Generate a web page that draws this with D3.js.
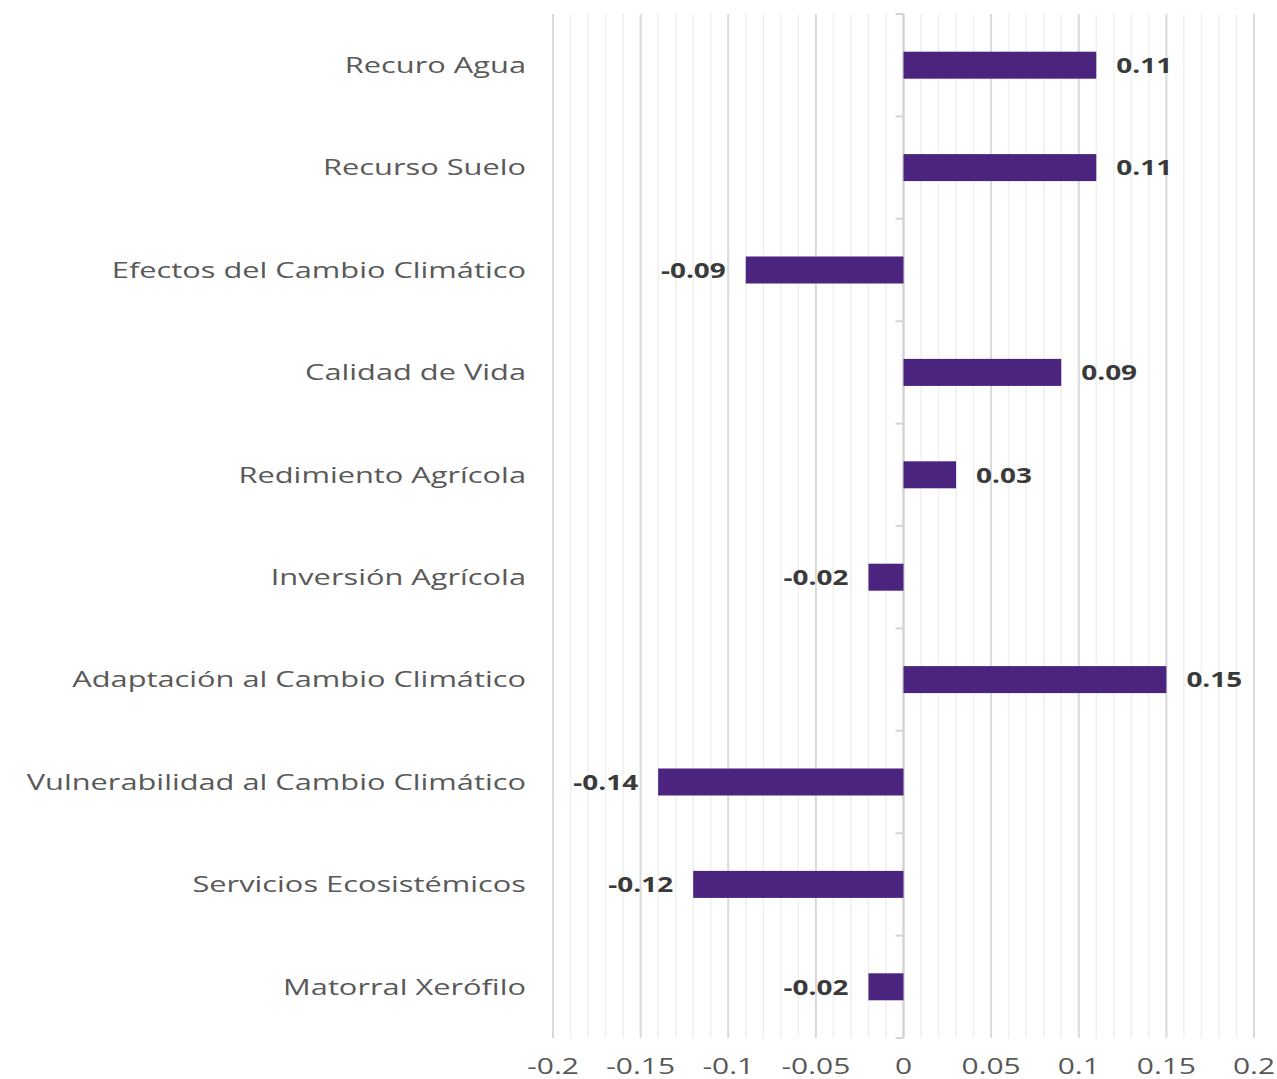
<!DOCTYPE html>
<html>
<head>
<meta charset="utf-8">
<script src="https://cdn.jsdelivr.net/npm/d3@7"></script>
<style>
  body { margin: 0; background: #fff; }
  text { font-family: "Open Sans", sans-serif; }
</style>
</head>
<body>
<div id="chart"></div>
<script>
const categories = [
    "Recuro Agua",
    "Recurso Suelo",
    "Efectos del Cambio Climático",
    "Calidad de Vida",
    "Redimiento Agrícola",
    "Inversión Agrícola",
    "Adaptación al Cambio Climático",
    "Vulnerabilidad al Cambio Climático",
    "Servicios Ecosistémicos",
    "Matorral Xerófilo"
];
const values = [0.11, 0.11, -0.09, 0.09, 0.03, -0.02, 0.15, -0.14, -0.12, -0.02];
const xTicks = [-0.2, -0.15, -0.1, -0.05, 0, 0.05, 0.1, 0.15, 0.2];

const width = 1277;
const height = 1079;
const margin = { top: 14, right: 23, bottom: 41, left: 553 };
const innerWidth = width - margin.left - margin.right;
const innerHeight = height - margin.top - margin.bottom;

const barColor = "#4b2480";
// the original font is much wider than Open Sans, stretch it horizontally
const catStretch = 1.40;
const tickStretch = 1.36;
const valStretch = 1.27;

const svg = d3.select("#chart")
    .append("svg")
    .attr("width", width)
    .attr("height", height);

const inner = svg.append("g")
    .attr("transform", `translate(${margin.left}, ${margin.top})`);

const xScale = d3.scaleLinear()
    .domain([-0.2, 0.2])
    .range([0, innerWidth]);

const yScale = d3.scaleBand()
    .domain(categories)
    .range([0, innerHeight]);

// minor gridlines every 0.01
const minor = d3.range(-20, 21).map(d => d / 100);
inner.selectAll(".minor")
    .data(minor)
    .join("line")
    .attr("class", "minor")
    .attr("x1", d => xScale(d))
    .attr("x2", d => xScale(d))
    .attr("y1", 0)
    .attr("y2", innerHeight)
    .attr("stroke", "#efefef")
    .attr("stroke-width", 1.5);

// major gridlines
inner.selectAll(".major")
    .data(xTicks)
    .join("line")
    .attr("class", "major")
    .attr("x1", d => xScale(d))
    .attr("x2", d => xScale(d))
    .attr("y1", 0)
    .attr("y2", innerHeight)
    .attr("stroke", "#dadada")
    .attr("stroke-width", 2);

// zero axis with category ticks
const zero = xScale(0);
inner.append("line")
    .attr("x1", zero).attr("x2", zero)
    .attr("y1", 0).attr("y2", innerHeight)
    .attr("stroke", "#d4d4d4")
    .attr("stroke-width", 2);

const bounds = categories.map(c => yScale(c)).concat([innerHeight]);
inner.selectAll(".cat-tick")
    .data(bounds)
    .join("line")
    .attr("class", "cat-tick")
    .attr("x1", zero - 8).attr("x2", zero)
    .attr("y1", d => d).attr("y2", d => d)
    .attr("stroke", "#d4d4d4")
    .attr("stroke-width", 2);

// bars
const barH = 27;
inner.selectAll(".bar")
    .data(values)
    .join("rect")
    .attr("class", "bar")
    .attr("x", d => xScale(Math.min(0, d)))
    .attr("y", (d, i) => yScale(categories[i]) + yScale.bandwidth() / 2 - barH / 2)
    .attr("width", d => Math.abs(xScale(d) - zero))
    .attr("height", barH)
    .attr("fill", barColor);

// value labels
inner.selectAll(".val")
    .data(values)
    .join("text")
    .attr("class", "val")
    .attr("transform", (d, i) => {
        const x = d >= 0 ? xScale(d) + 20 : xScale(d) - 20;
        const y = yScale(categories[i]) + yScale.bandwidth() / 2;
        return `translate(${x}, ${y}) scale(${valStretch}, 1)`;
    })
    .attr("dy", "0.35em")
    .attr("text-anchor", d => d >= 0 ? "start" : "end")
    .style("font-size", "22px")
    .style("font-weight", "bold")
    .style("fill", "#3a3a3a")
    .text(d => d);

// category labels
inner.selectAll(".cat")
    .data(categories)
    .join("text")
    .attr("class", "cat")
    .attr("transform", d => `translate(-27, ${yScale(d) + yScale.bandwidth() / 2}) scale(${catStretch}, 1)`)
    .attr("dy", "0.35em")
    .attr("text-anchor", "end")
    .style("font-size", "22px")
    .style("fill", "#595959")
    .text(d => d);

// x axis labels
inner.selectAll(".xlab")
    .data(xTicks)
    .join("text")
    .attr("class", "xlab")
    .attr("transform", d => `translate(${xScale(d)}, ${innerHeight + 28}) scale(${tickStretch}, 1)`)
    .attr("dy", "0.35em")
    .attr("text-anchor", "middle")
    .style("font-size", "22px")
    .style("fill", "#595959")
    .text(d => d);
</script>
</body>
</html>
